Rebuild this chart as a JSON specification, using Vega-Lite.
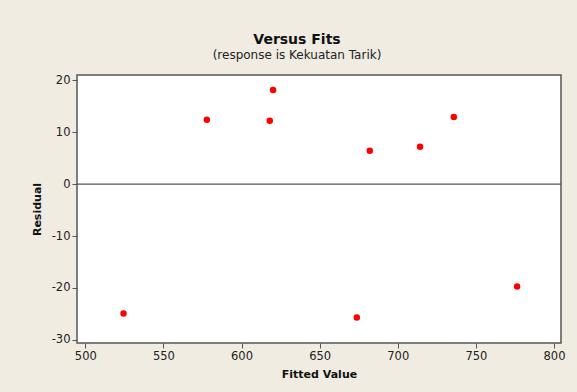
{
  "$schema": "https://vega.github.io/schema/vega-lite/v6.json",
  "width": 484,
  "height": 268,
  "autosize": {"type": "none"},
  "padding": {"left": 77, "top": 75, "right": 16, "bottom": 49},
  "background": "#F0ECE2",
  "config": {
    "font": "DejaVu Sans",
    "view": {"fill": "white", "stroke": "#555555", "strokeWidth": 1.5},
    "axis": {
      "grid": false,
      "domain": false,
      "tickColor": "#555555",
      "tickSize": 5,
      "labelFont": "DejaVu Sans",
      "labelFontSize": 11.5,
      "labelColor": "#222222",
      "titleFont": "DejaVu Sans",
      "titleFontSize": 11,
      "titleFontWeight": "bold",
      "titleColor": "#111111"
    }
  },
  "title": {
    "text": "Versus Fits",
    "subtitle": "(response is Kekuatan Tarik)",
    "anchor": "middle",
    "frame": "group",
    "dx": -22,
    "font": "DejaVu Sans",
    "fontSize": 14,
    "fontWeight": "bold",
    "color": "#111111",
    "subtitleFont": "DejaVu Sans",
    "subtitleFontSize": 12,
    "subtitleColor": "#222222",
    "subtitlePadding": 3,
    "offset": 13
  },
  "datasets": {
    "pts": [
      {"fit": 524.5, "res": -24.9},
      {"fit": 577.8, "res": 12.4},
      {"fit": 618.1, "res": 12.2},
      {"fit": 620.2, "res": 18.1},
      {"fit": 673.8, "res": -25.7},
      {"fit": 682.1, "res": 6.4},
      {"fit": 714.3, "res": 7.2},
      {"fit": 735.9, "res": 12.9},
      {"fit": 776.4, "res": -19.7}
    ],
    "zero": [{"res": 0}]
  },
  "layer": [
    {
      "data": {"name": "zero"},
      "mark": {"type": "rule", "color": "#555555", "strokeWidth": 1.2},
      "encoding": {
        "y": {"field": "res", "type": "quantitative"}
      }
    },
    {
      "data": {"name": "pts"},
      "mark": {"type": "circle", "color": "#FF0000", "opacity": 1, "size": 42},
      "encoding": {
        "x": {
          "field": "fit",
          "type": "quantitative",
          "title": "Fitted Value",
          "scale": {"domain": [494.7, 804.5], "nice": false, "zero": false},
          "axis": {"values": [500, 550, 600, 650, 700, 750, 800], "labelPadding": 2, "titlePadding": 7}
        },
        "y": {
          "field": "res",
          "type": "quantitative",
          "title": "Residual",
          "scale": {"domain": [-30.6, 21], "nice": false, "zero": false},
          "axis": {"values": [-30, -20, -10, 0, 10, 20], "labelExpr": "'' + datum.value", "labelPadding": 2, "titlePadding": 9}
        }
      }
    }
  ]
}
